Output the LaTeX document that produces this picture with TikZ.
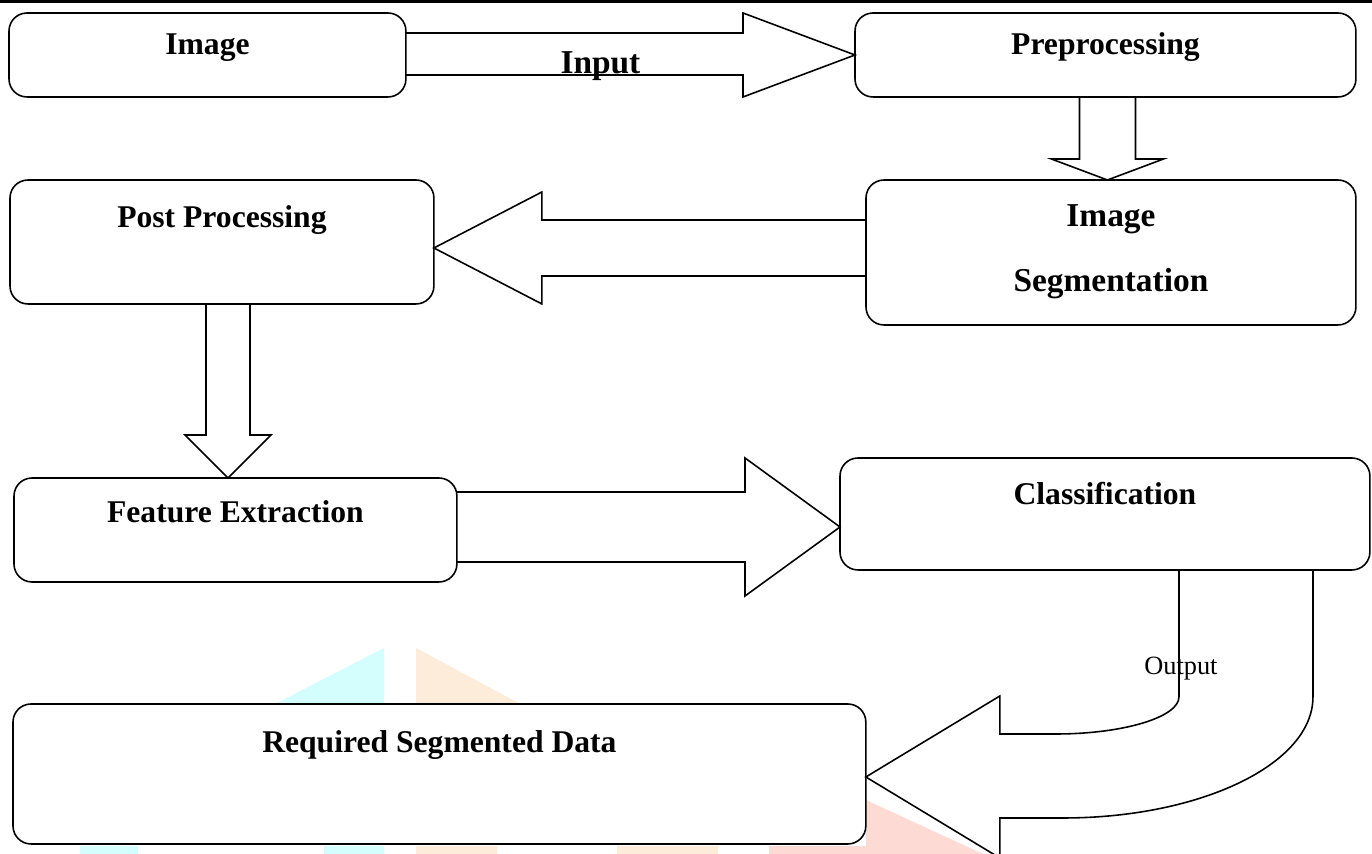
\documentclass[tikz,border=0pt]{standalone}
\usepackage{fontspec}
\setmainfont{Liberation Serif}
\usetikzlibrary{calc}
\definecolor{wmcyan}{RGB}{212,254,254}
\definecolor{wmorange}{RGB}{254,236,218}
\definecolor{wmpink}{RGB}{253,218,212}

\begin{document}
\begin{tikzpicture}[x=0.02cm, y=-0.02cm,
	box/.style={draw, line width=0.9pt, rounded corners=0.36cm, fill=white, anchor=north west, inner sep=0pt, outer sep=0pt},
	ttl/.style={anchor=base, font=\bfseries\fontsize{18}{22}\selectfont},
	ttlb/.style={anchor=base, font=\bfseries\fontsize{19}{23}\selectfont},
	blk/.style={draw, line width=0.9pt, line join=miter}]
			\useasboundingbox (0,0) rectangle (1372,854);
			% faint watermark pieces
			\fill[wmcyan] (384,648) -- (384,706) -- (271,706) -- cycle;
			\fill[wmorange] (416,648) -- (416,706) -- (524,706) -- cycle;
			\fill[wmcyan] (80,846) rectangle (138,854) (324,846) rectangle (384,854);
			\fill[wmorange] (416,846) rectangle (497,854) (617,846) rectangle (718,854);
			\fill[wmpink] (769,846) rectangle (866,854) (866,800) -- (983,854) -- (866,854) -- cycle;
			% top rule
			\draw[line width=1.7pt] (0,1.5) -- (1372,1.5);
			% boxes
			\node[box, minimum width=7.94cm, minimum height=1.68cm] (img) at (9,13) {};
			\node[box, minimum width=10.02cm, minimum height=1.68cm] (pre) at (855,13) {};
			\node[box, minimum width=9.8cm, minimum height=2.9cm] (seg) at (866,180) {};
			\node[box, minimum width=8.48cm, minimum height=2.48cm] (post) at (10,180) {};
			\node[box, minimum width=8.86cm, minimum height=2.08cm] (feat) at (14,478) {};
			\node[box, minimum width=10.6cm, minimum height=2.24cm] (cls) at (840,458) {};
			\node[box, minimum width=17.06cm, minimum height=2.8cm] (req) at (13,704) {};
			% block arrows
			\draw[blk] ($(img.east)+(0,-22)$) -- ($(pre.west)+(-112,-22)$) -- ($(pre.west)+(-112,-42)$) -- (pre.west) -- ($(pre.west)+(-112,42)$) -- ($(pre.west)+(-112,20)$) -- ($(img.east)+(0,20)$);
			\coordinate (d1) at ($(pre.south)+(2,0)$);
			\draw[blk] ($(d1)+(-28,0)$) -- ($(d1 |- seg.north)+(-28,-21)$) -- ($(d1 |- seg.north)+(-56,-21)$) -- (d1 |- seg.north) -- ($(d1 |- seg.north)+(56,-21)$) -- ($(d1 |- seg.north)+(28,-21)$) -- ($(d1)+(28,0)$);
			\coordinate (t3) at ($(post.east)+(0,6)$);
			\draw[blk] ($(seg.west |- t3)+(0,-28)$) -- ($(t3)+(108,-28)$) -- ($(t3)+(108,-56)$) -- (t3) -- ($(t3)+(108,56)$) -- ($(t3)+(108,28)$) -- ($(seg.west |- t3)+(0,28)$);
			\coordinate (d2) at ($(post.south)+(6,0)$);
			\draw[blk] ($(d2)+(-22,0)$) -- ($(d2 |- feat.north)+(-22,-43)$) -- ($(d2 |- feat.north)+(-43,-43)$) -- (d2 |- feat.north) -- ($(d2 |- feat.north)+(43,-43)$) -- ($(d2 |- feat.north)+(22,-43)$) -- ($(d2)+(22,0)$);
			\coordinate (t5) at ($(cls.west)+(0,13)$);
			\draw[blk] ($(feat.east |- t5)+(0,-35)$) -- ($(t5)+(-95,-35)$) -- ($(t5)+(-95,-69)$) -- (t5) -- ($(t5)+(-95,69)$) -- ($(t5)+(-95,35)$) -- ($(feat.east |- t5)+(0,35)$);
			% bent output arrow
			\coordinate (oi) at ($(cls.south)+(74,0)$);
			\coordinate (oo) at ($(cls.south)+(208,0)$);
			\coordinate (t6) at ($(req.east)+(0,3)$);
			\draw[blk] (oi) -- ($(oi)+(0,127)$) .. controls ($(oi)+(0,147)$) and ($(oi)+(-55,164)$) .. ($(t6)+(190,-43)$) -- ($(t6)+(134,-43)$) -- ($(t6)+(134,-81)$) -- (t6) -- ($(t6)+(134,81)$) -- ($(t6)+(134,41)$) -- ($(t6)+(197,41)$) .. controls ($(t6)+(335,41)$) and ($(oo)+(0,194)$) .. ($(oo)+(0,127)$) -- (oo);
			% labels
			\node[ttl] (imgt) at ($(img.north)+(0,42)$) {Image};
			\node[ttlb] (inpt) at ($(img.east)!0.5!(pre.west)+(-30,19)$) {Input};
			\node[ttl] (pret) at ($(pre.north)+(0,42)$) {Preprocessing};
			\node[ttlb] (segt) at ($(seg.north)+(0,47)$) {Image};
			\node[ttlb] (segtt) at ($(seg.north)+(0,112)$) {Segmentation};
			\node[ttl] (postt) at ($(post.north)+(0,48)$) {Post Processing};
			\node[ttl] (featt) at ($(feat.north)+(0,44)$) {Feature Extraction};
			\node[ttl] (clst) at ($(cls.north)+(0,46)$) {Classification};
			\node[ttl] (reqt) at ($(req.north)+(0,48)$) {Required Segmented Data};
			\node[anchor=base, font=\fontsize{15}{18}\selectfont] (outt) at ($(oi)+(2,105)$) {Output};
		\end{tikzpicture}
\end{document}
